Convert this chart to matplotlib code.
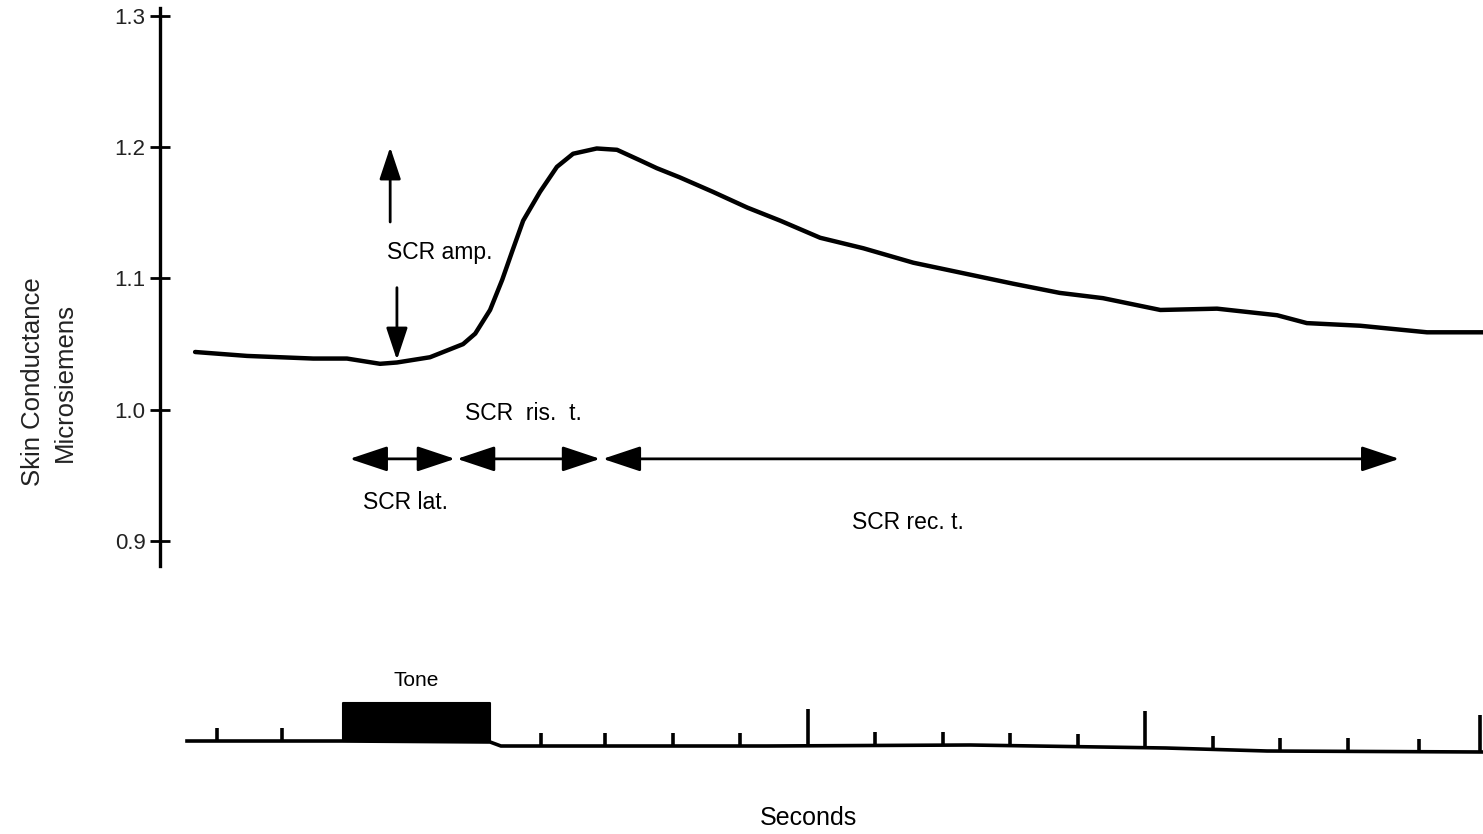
import matplotlib
matplotlib.use("Agg")
import matplotlib.pyplot as plt

plt.rcParams['font.family'] = ['Liberation Sans', 'DejaVu Sans']

# skin conductance trace (seconds, microsiemens)
sc_time = [0.92, 1.69, 2.67, 3.17, 3.66, 3.91, 4.40, 4.89, 5.07, 5.29, 5.47,
           5.62, 5.78, 6.03, 6.28, 6.52, 6.87, 7.17, 7.51, 7.76, 8.10, 8.59,
           9.10, 9.59, 10.18, 10.82, 11.56, 12.30, 13.04, 13.73, 14.37, 15.22,
           16.06, 16.95, 17.39, 18.18, 19.17, 20.00]
sc_value = [1.044, 1.041, 1.039, 1.039, 1.035, 1.036, 1.040, 1.050, 1.058,
            1.076, 1.099, 1.121, 1.144, 1.166, 1.185, 1.195, 1.199, 1.198,
            1.190, 1.184, 1.177, 1.166, 1.154, 1.144, 1.131, 1.123, 1.112,
            1.104, 1.096, 1.089, 1.085, 1.076, 1.077, 1.072, 1.066, 1.064,
            1.059, 1.059]
y_ticks = [0.9, 1.0, 1.1, 1.2, 1.3]
y_ticklabels = ["0.9", "1.0", "1.1", "1.2", "1.3"]

# SCR components
amp_base, amp_peak = 1.036, 1.200
lat_start, lat_end = 3.21, 4.77
rise_start, rise_end = 4.80, 6.92
rec_start, rec_end = 6.96, 18.76

# event marker channel (arbitrary trace units)
base_time = [0.8, 3.11, 5.29, 5.45, 9.4, 12.4, 15.3, 16.8, 20.0]
base_level = [29, 29, 28, 24, 24, 25, 22, 19, 18]
mark_time = [1.25, 2.2, 6.05, 7.0, 8.0, 9.0, 10.0, 11.0, 12.0, 13.0, 14.0,
             15.0, 16.0, 17.0, 18.0, 19.05, 19.95]
mark_tall = [10.0, 15.0, 19.95]
tone_on, tone_off = 3.11, 5.29
tone_level = 67

W, H = 1483, 834
fig = plt.figure(figsize=(W / 100, H / 100), dpi=100)
fig.patch.set_facecolor("white")

ax = fig.add_axes([160 / W, 1 - 566 / H, 1 - 160 / W, (566 - 8) / H])
ax.set_xlim(0.4, 20.0)
ax.set_ylim(0.881, 1.306)
ax.plot(sc_time, sc_value, color="black", lw=3.2, solid_capstyle="round",
        solid_joinstyle="round", clip_on=False)
for s in ["top", "right", "bottom"]:
    ax.spines[s].set_visible(False)
ax.spines["left"].set_linewidth(2.4)
ax.set_xticks([])
ax.set_yticks(y_ticks)
ax.set_yticklabels(y_ticklabels)
ax.tick_params(axis="y", direction="inout", length=15, width=2, pad=3,
               labelsize=16, labelcolor="#222222")
ax.patch.set_alpha(0)

head = "-|>,head_length=0.9,head_width=0.3"
dhead = "<|-|>,head_length=0.9,head_width=0.3"
# amplitude arrows
ax.annotate("", xy=(3.81, amp_peak), xytext=(3.81, 1.143),
            arrowprops=dict(arrowstyle=head, color="black", lw=2,
                            mutation_scale=22, shrinkA=0, shrinkB=0))
ax.annotate("", xy=(3.91, amp_base + 0.002), xytext=(3.91, 1.093),
            arrowprops=dict(arrowstyle=head, color="black", lw=2,
                            mutation_scale=22, shrinkA=0, shrinkB=0))
ax.text(4.55, 1.120, "SCR amp.", ha="center", va="center", fontsize=16.5)

arrow_y = 0.9626
for a, b in [(lat_start, lat_end), (rise_start, rise_end), (rec_start, rec_end)]:
    ax.annotate("", xy=(b, arrow_y), xytext=(a, arrow_y),
                arrowprops=dict(arrowstyle=dhead, color="black", lw=2,
                                mutation_scale=26, shrinkA=0, shrinkB=0))
ax.text(5.78, 0.997, "SCR  ris.  t.", ha="center", va="center", fontsize=16.5)
ax.text(4.03, 0.929, "SCR lat.", ha="center", va="center", fontsize=16.5)
ax.text(11.48, 0.914, "SCR rec. t.", ha="center", va="center", fontsize=16.5)

fig.text(49 / W, 1 - 382 / H, "Skin Conductance\nMicrosiemens", rotation=90,
         ha="center", va="center", fontsize=18.5, linespacing=1.45,
         color="#222222")

# marker channel
bx = fig.add_axes([160 / W, 1 - 770 / H, 1 - 160 / W, 80 / H], sharex=ax)
bx.set_ylim(0, 80)
bx.axis("off")
bx.plot(base_time, base_level, color="black", lw=2.6, clip_on=False)


def level_at(t):
    for i in range(len(base_time) - 1):
        if base_time[i] <= t <= base_time[i + 1]:
            f = (t - base_time[i]) / (base_time[i + 1] - base_time[i])
            return base_level[i] + f * (base_level[i + 1] - base_level[i])
    return base_level[-1]


for t in mark_time:
    lv = level_at(t)
    top = lv + (37 if t in mark_tall else 13)
    bx.vlines(t, lv, top, color="black", lw=2.6, clip_on=False)
bx.fill_between([tone_on, tone_off], [level_at(tone_on)] * 2, tone_level,
                color="black", lw=1.5, edgecolor="black")
bx.text((tone_on + tone_off) / 2, 90, "Tone", ha="center", va="center",
        fontsize=15)

fig.text(808 / W, 1 - 818 / H, "Seconds", ha="center", va="center",
         fontsize=18)

fig.savefig("out.png", dpi=100, facecolor="white")
